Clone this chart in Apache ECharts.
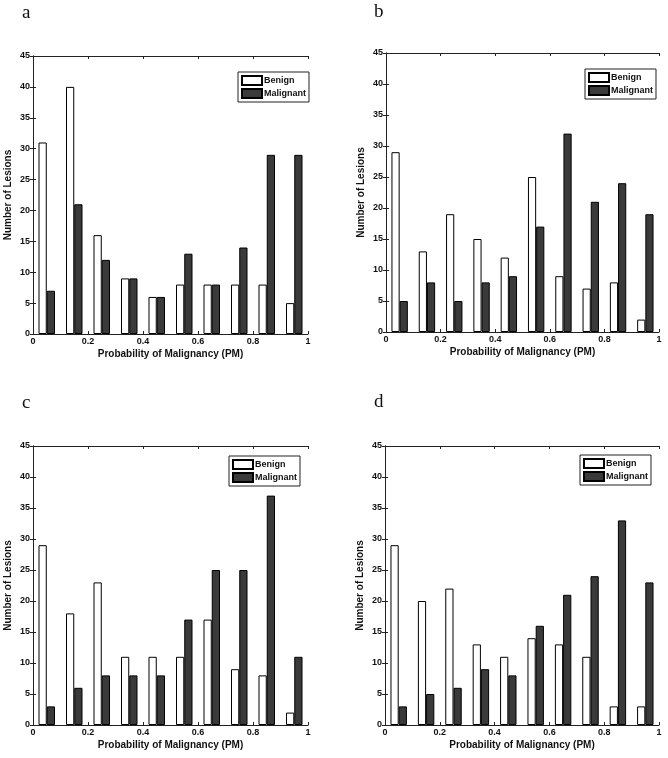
<!DOCTYPE html>
<html>
<head>
<meta charset="utf-8">
<script src="https://cdn.jsdelivr.net/npm/echarts@6/dist/echarts.min.js"></script>
<style>html,body{margin:0;padding:0;background:#fff}#c{width:668px;height:758px}</style>
</head>
<body>
<div id="c"></div>
<script>
const bins = ['0.05','0.15','0.25','0.35','0.45','0.55','0.65','0.75','0.85','0.95'];
const xTicks = [0, 0.2, 0.4, 0.6, 0.8, 1];
const panelLetters = ['a','b','c','d'];
const aBenign = [31,40,16,9,6,8,8,8,8,5];
const aMalignant = [7,21,12,9,6,13,8,14,29,29];
const bBenign = [29,13,19,15,12,25,9,7,8,2];
const bMalignant = [5,8,5,8,9,17,32,21,24,19];
const cBenign = [29,18,23,11,11,11,17,9,8,2];
const cMalignant = [3,6,8,8,8,17,25,25,37,11];
const dBenign = [29,20,22,13,11,14,13,11,3,3];
const dMalignant = [3,5,6,9,8,16,21,24,33,23];

const benignSets = [aBenign,bBenign,cBenign,dBenign];
const malignantSets = [aMalignant,bMalignant,cMalignant,dMalignant];

const grids = [
  {left:33, top:56, width:275, height:278},
  {left:386, top:53, width:273, height:279},
  {left:33, top:446, width:275, height:279},
  {left:385, top:446, width:274, height:279}
];
const legendPos = [
  {left:238, top:72},
  {left:585, top:69},
  {left:229, top:456},
  {left:580, top:455}
];
const letterPos = [
  {left:22, top:4},
  {left:374, top:3},
  {left:22, top:394},
  {left:374, top:393}
];
const AX = '#222';
const DARK = '#3a3a3a';
const FONT = 'Liberation Sans, Arial, sans-serif';

const option = {
  animation:false,
  backgroundColor:'#fff',
  title: [], grid: [], xAxis: [], yAxis: [], legend: [], series: []
};
grids.forEach((g,i)=>{
  option.grid.push(Object.assign({containLabel:false}, g));
  option.title.push({text:panelLetters[i], left:letterPos[i].left, top:letterPos[i].top, padding:0,
    textStyle:{fontFamily:'Liberation Serif, Times New Roman, serif', fontWeight:'normal', fontSize:19, color:'#111'}});
  option.xAxis.push({type:'category', gridIndex:i, data:bins, show:false, boundaryGap:true});
  option.xAxis.push({type:'value', gridIndex:i, min:0, max:1, interval:0.2, position:'bottom',
    name:'Probability of Malignancy (PM)', nameLocation:'middle', nameGap:15,
    nameTextStyle:{fontFamily:FONT, fontWeight:'bold', fontSize:10, color:'#111'},
    axisLine:{show:true, lineStyle:{color:AX, width:1}},
    axisTick:{show:true, inside:true, length:3, lineStyle:{color:AX}},
    axisLabel:{show:true, margin:3, fontFamily:FONT, fontWeight:'bold', fontSize:9, color:'#111',
      formatter:v=>{const t=xTicks.find(x=>Math.abs(x-v)<1e-9); return t===undefined?'':String(t);}},
    splitLine:{show:false}});
  option.xAxis.push({type:'value', gridIndex:i, min:0, max:1, interval:0.2, position:'top',
    axisLine:{show:true, lineStyle:{color:AX, width:1}},
    axisTick:{show:true, inside:true, length:3, lineStyle:{color:AX}},
    axisLabel:{show:false}, splitLine:{show:false}});
  option.yAxis.push({type:'value', gridIndex:i, min:0, max:45, interval:5, position:'left',
    name:'Number of Lesions', nameLocation:'middle', nameGap:20, nameRotate:90,
    nameTextStyle:{fontFamily:FONT, fontWeight:'bold', fontSize:10, color:'#111'},
    axisLine:{show:true, lineStyle:{color:AX, width:1}},
    axisTick:{show:true, inside:true, length:3, lineStyle:{color:AX}},
    axisLabel:{show:true, margin:3, fontFamily:FONT, fontWeight:'bold', fontSize:9, color:'#111'},
    splitLine:{show:false}});
  option.yAxis.push({type:'value', gridIndex:i, min:0, max:45, interval:5, position:'right',
    axisLine:{show:true, lineStyle:{color:AX, width:1}},
    axisTick:{show:true, inside:true, length:3, lineStyle:{color:AX}},
    axisLabel:{show:false}, splitLine:{show:false}});
  const bName = 'Benign', mName = 'Malignant';
  option.series.push({type:'bar', name:bName, xAxisIndex:3*i, yAxisIndex:2*i, data:benignSets[i],
    barGap:'0%', barCategoryGap:'40%',
    itemStyle:{color:'#fff', borderColor:'#000', borderWidth:1}});
  option.series.push({type:'bar', name:mName, xAxisIndex:3*i, yAxisIndex:2*i, data:malignantSets[i],
    barGap:'0%', barCategoryGap:'40%',
    itemStyle:{color:DARK, borderColor:'#000', borderWidth:1}});
  option.legend.push({left:legendPos[i].left, top:legendPos[i].top, orient:'vertical',
    data:[bName, mName], seriesIndex:[2*i, 2*i+1],
    borderColor:'#222', borderWidth:1, padding:[3,3,3,3], itemGap:2,
    itemWidth:20, itemHeight:9, icon:'rect', backgroundColor:'#fff',
    textStyle:{fontFamily:FONT, fontWeight:'bold', fontSize:9, color:'#111', padding:[0,0,0,-3]},
    selectedMode:false});
});
const chart = echarts.init(document.getElementById('c'), null, {renderer:'canvas'});
chart.setOption(option);
</script>
</body>
</html>
